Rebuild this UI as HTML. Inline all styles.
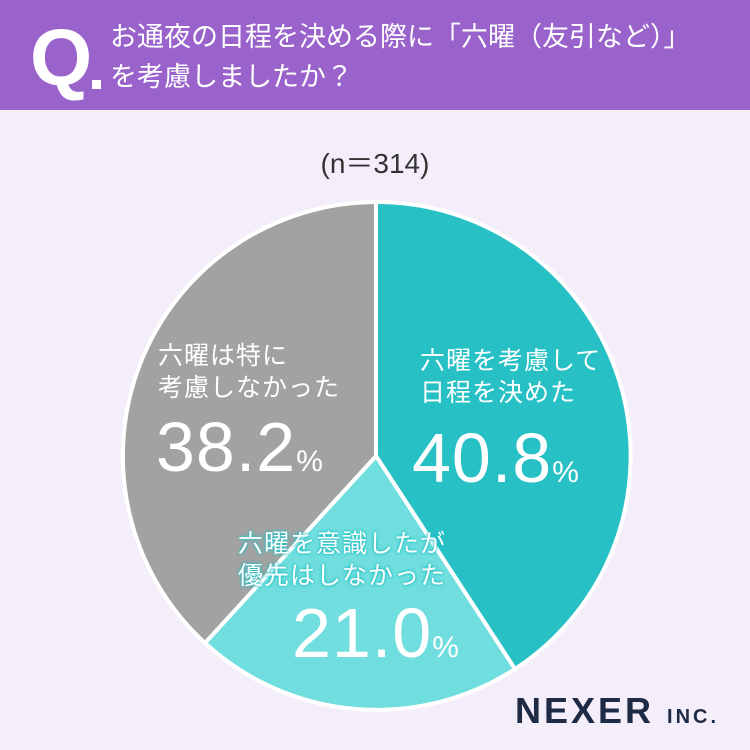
<!DOCTYPE html>
<html><head><meta charset="utf-8"><style>
body{margin:0;width:750px;height:750px;background:#f4eefb;position:relative;overflow:hidden;font-family:"Liberation Sans","Noto Sans CJK JP",sans-serif}
.hd{position:absolute;left:0;top:0;width:750px;height:110px;background:#9a63cc}
.q{position:absolute;left:30px;top:16px;color:#fff;font-size:80px;font-weight:bold;line-height:84px}
.dot{position:absolute;left:92px;top:80px;width:9px;height:9px;background:#fff}
.t{position:absolute;left:110px;color:#fff;font-size:27px;line-height:30px;white-space:nowrap}
.n{position:absolute;left:0;width:750px;top:142px;text-align:center;font-size:28px;color:#333}
.l{position:absolute;color:#fff;font-size:25px;line-height:32px;letter-spacing:1px}
.p{position:absolute;color:#fff;font-size:70px;line-height:66px;letter-spacing:1px}
.p span{font-size:30px}
.logo{position:absolute;left:515px;top:690px;font-size:36px;color:#1f2a44;letter-spacing:3px;font-weight:bold}
.logo span{font-size:20px}
</style></head><body>
<div class="hd"></div>
<div class="q">Q</div><div class="dot"></div>
<div class="t" style="top:22px">お通夜の日程を決める際に「六曜（友引など）」</div>
<div class="t" style="top:62px">を考慮しましたか？</div>
<div class="n">(n＝314)</div>
<svg width="750" height="750" style="position:absolute;left:0;top:0">
<path d="M376,456 L376,202 A254,254 0 0 1 515,669 Z" fill="#26c0c5" stroke="#fff" stroke-width="4"/>
<path d="M376,456 L515,669 A254,254 0 0 1 205,643 Z" fill="#70dede" stroke="#fff" stroke-width="4"/>
<path d="M376,456 L205,643 A254,254 0 0 1 376,202 Z" fill="#a2a2a2" stroke="#fff" stroke-width="4"/>
</svg>
<div class="l" style="left:158px;top:340px">六曜は特に<br>考慮しなかった</div>
<div class="p" style="left:156px;top:414px">38.2<span>%</span></div>
<div class="l" style="left:420px;top:345px">六曜を考慮して<br>日程を決めた</div>
<div class="p" style="left:412px;top:425px">40.8<span>%</span></div>
<div class="l" style="left:238px;top:528px;color:#fff;text-shadow:0 0 3px #26c0c5,0 0 3px #26c0c5">六曜を意識したが<br>優先はしなかった</div>
<div class="p" style="left:292px;top:600px">21.0<span>%</span></div>
<div class="logo">NEXER <span>INC.</span></div>
</body></html>
